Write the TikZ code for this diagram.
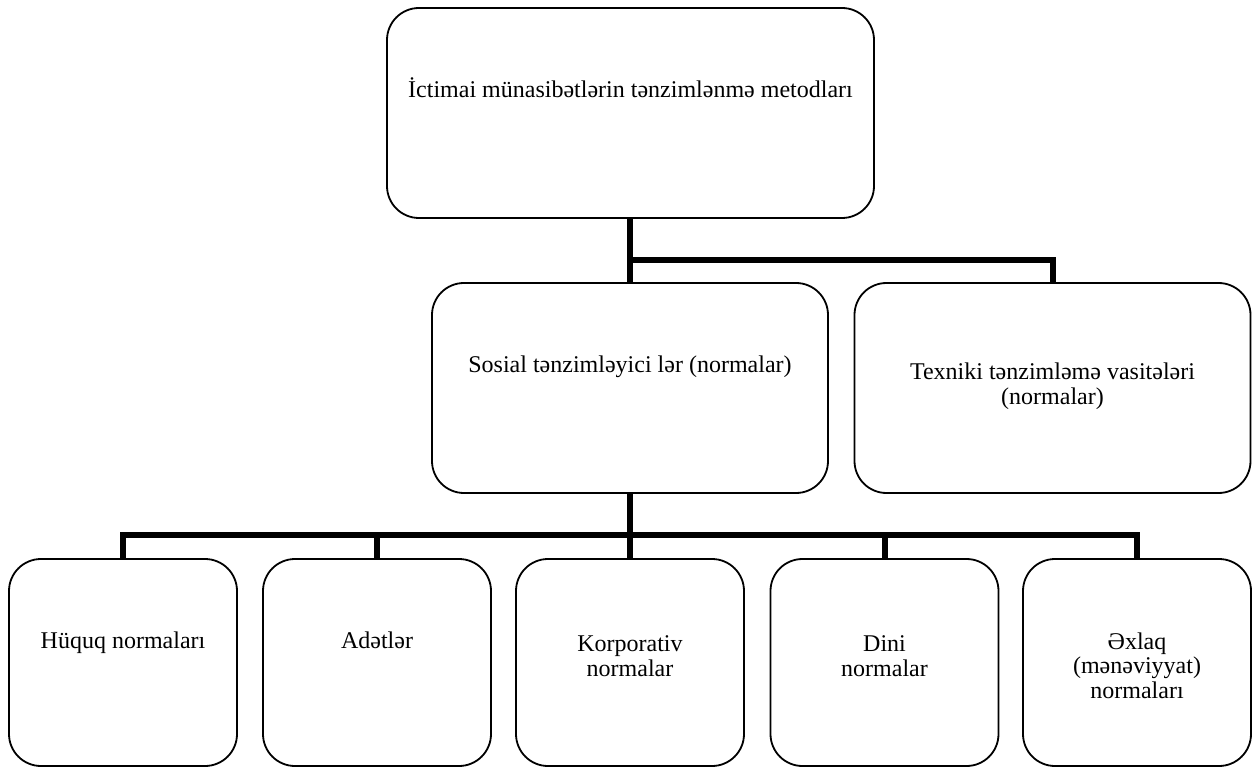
\documentclass[tikz,border=0pt]{standalone}
\usepackage{fontspec}
\setmainfont{Liberation Serif}

\begin{document}
\begin{tikzpicture}[x=1pt,y=-1pt,
  box/.style={draw, line width=1.8pt, rounded corners=32pt, inner sep=0pt},
  midbox/.style={box, minimum width=396pt, minimum height=210pt},
  lowbox/.style={box, minimum width=228pt, minimum height=207pt},
  conn/.style={line width=6pt, line join=miter},
  lbl/.style={font=\fontsize{24}{24.5}\selectfont, align=center, anchor=base, inner sep=0pt}]

  \useasboundingbox (0,0) rectangle (1256,767);

  % boxes
  \node[box, minimum width=487pt, minimum height=210pt] (top) at (630.5,113) {};
  \node[midbox] (sos) at (630,388) {};
  \node[midbox] (tex) at (1052.5,388) {};
  \node[lowbox] (hq)  at (123,662.5) {};
  \node[lowbox] (ad)  at (377,662.5) {};
  \node[lowbox] (kor) at (630,662.5) {};
  \node[lowbox] (din) at (884.5,662.5) {};
  \node[lowbox] (exl) at (1137,662.5) {};

  % labels (anchored at the baseline of their last line)
  \node[lbl] (topl) at (630.5,98) {İctimai münasibətlərin tənzimlənmə metodları};
  \node[lbl] (sosl) at (630,373) {Sosial tənzimləyici lər (normalar)};
  \node[lbl] (texl) at (1052.5,404) {Texniki tənzimləmə vasitələri\\(normalar)};
  \node[lbl] (hql)  at (123,648) {Hüquq normaları};
  \node[lbl] (adl)  at (377,648) {Adətlər};
  \node[lbl] (korl) at (630,676) {Korporativ\\normalar};
  \node[lbl] (dinl) at (884.5,676) {Dini\\normalar};
  \node[lbl] (exll) at (1137,698) {Əxlaq\\(mənəviyyat)\\normaları};

  % connectors
  \coordinate (j1) at (630,260);
  \coordinate (j2) at (630,535);
  \draw[conn] (top.south -| sos.north) -- (sos.north);
  \draw[conn] (j1) -| (tex.north);
  \draw[conn] (sos.south) -- (j2);
  \foreach \b in {hq,ad,kor,din,exl}
    \draw[conn] (j2) -| (\b.north);
\end{tikzpicture}
\end{document}
